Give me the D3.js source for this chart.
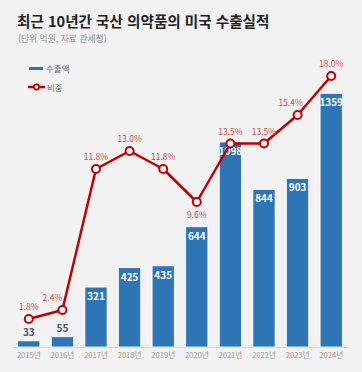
<!DOCTYPE html>
<html lang="ko">
<head>
<meta charset="UTF-8">
<title>국산 의약품 미국 수출실적</title>
<script src="https://d3js.org/d3.v7.min.js"></script>
<style>
  body { margin: 0; background: #f2f2f2; }
  svg { display: block; font-family: "Noto Sans CJK KR", "Noto Sans", sans-serif; }
</style>
</head>
<body>
<div id="chart"></div>
<script>
// data
const years = ["2015년", "2016년", "2017년", "2018년", "2019년", "2020년", "2021년", "2022년", "2023년", "2024년"];
const exports = [33, 55, 321, 425, 435, 644, 1098, 844, 903, 1359];
const shares = [1.8, 2.4, 11.8, 13.0, 11.8, 9.6, 13.5, 13.5, 15.4, 18.0];
const shareLabels = ["1.8%", "2.4%", "11.8%", "13.0%", "11.8%", "9.6%", "13.5%", "13.5%", "15.4%", "18.0%"];

const W = 362, H = 372;
const blue = "#2e75b6", red = "#c00000", labelRed = "#d04848";

const svg = d3.select("#chart").append("svg")
    .attr("width", W).attr("height", H);

svg.append("rect").attr("width", W).attr("height", H).attr("fill", "#f2f2f2");

// title
svg.append("text")
    .attr("x", 17).attr("y", 27)
    .attr("font-size", 14.6).attr("font-weight", "bold").attr("fill", "#222")
    .text("최근 10년간 국산 의약품의 미국 수출실적");
svg.append("text")
    .attr("x", 18).attr("y", 42)
    .attr("font-size", 8.8).attr("fill", "#8a8a8a")
    .text("(단위 억원, 자료 관세청)");

// scales
const x = d3.scaleBand()
    .domain(years)
    .range([12, 348])
    .paddingInner(0.34)
    .paddingOuter(0.17);

const y = d3.scaleLinear().domain([0, 1500]).range([347, 67]);
const y2 = d3.scaleLinear().domain([0, 20]).range([346, 46]);

// baseline axis
const xAxis = svg.append("g")
    .attr("transform", "translate(0,347)")
    .call(d3.axisBottom(x).tickSize(0).tickPadding(6));
xAxis.select(".domain").attr("stroke", "#d6d6d6");
xAxis.selectAll("text")
    .attr("font-size", 7.6).attr("fill", "#999")
    .attr("font-family", "\"Noto Sans CJK KR\", sans-serif");

// bars
svg.selectAll("rect.bar")
    .data(exports)
    .join("rect")
    .attr("class", "bar")
    .attr("x", (d, i) => x(years[i]))
    .attr("y", d => y(d))
    .attr("width", x.bandwidth())
    .attr("height", d => y(0) - y(d))
    .attr("fill", blue)
    .attr("stroke", "#ffffff")
    .attr("stroke-width", 0.8);

// bar labels
svg.selectAll("text.val")
    .data(exports)
    .join("text")
    .attr("class", "val")
    .attr("x", (d, i) => x(years[i]) + x.bandwidth() / 2)
    .attr("y", d => d > 200 ? y(d) + 13 : y(d) - 5)
    .attr("text-anchor", "middle")
    .attr("font-size", 10).attr("font-weight", 600)
    .attr("fill", d => d > 200 ? "#ffffff" : "#44546a")
    .text(d => d);

// share line
const cx = i => x(years[i]) + x.bandwidth() / 2;
const line = d3.line()
    .x((d, i) => cx(i))
    .y(d => y2(d));

svg.append("path")
    .datum(shares)
    .attr("d", line)
    .attr("fill", "none")
    .attr("stroke", red)
    .attr("stroke-width", 2.5)
    .attr("stroke-linejoin", "round");

svg.selectAll("circle.pt")
    .data(shares)
    .join("circle")
    .attr("class", "pt")
    .attr("cx", (d, i) => cx(i))
    .attr("cy", d => y2(d))
    .attr("r", 4)
    .attr("fill", "#ffffff")
    .attr("stroke", red)
    .attr("stroke-width", 2);

// label nudges so they don't sit on the line
const nudgeX = { 1: -10, 8: -7 };
svg.selectAll("text.pct")
    .data(shares)
    .join("text")
    .attr("class", "pct")
    .attr("x", (d, i) => cx(i) + (nudgeX[i] || 0))
    .attr("y", (d, i) => i === 5 ? y2(d) + 16 : y2(d) - 9)
    .attr("text-anchor", "middle")
    .attr("font-size", 8.5)
    .attr("fill", labelRed)
    .text((d, i) => shareLabels[i]);

// legend
const lg = svg.append("g");
lg.append("rect").attr("x", 29).attr("y", 67).attr("width", 14).attr("height", 3).attr("fill", blue);
lg.append("text").attr("x", 46).attr("y", 71.5).attr("font-size", 8.5).attr("fill", "#666").text("수출액");
lg.append("line").attr("x1", 28).attr("x2", 45).attr("y1", 87).attr("y2", 87)
    .attr("stroke", red).attr("stroke-width", 2.5);
lg.append("circle").attr("cx", 36.5).attr("cy", 87).attr("r", 2.6)
    .attr("fill", "#fff").attr("stroke", red).attr("stroke-width", 1.6);
lg.append("text").attr("x", 47).attr("y", 90.5).attr("font-size", 8.5).attr("fill", "#666").text("비중");
</script>
</body>
</html>
